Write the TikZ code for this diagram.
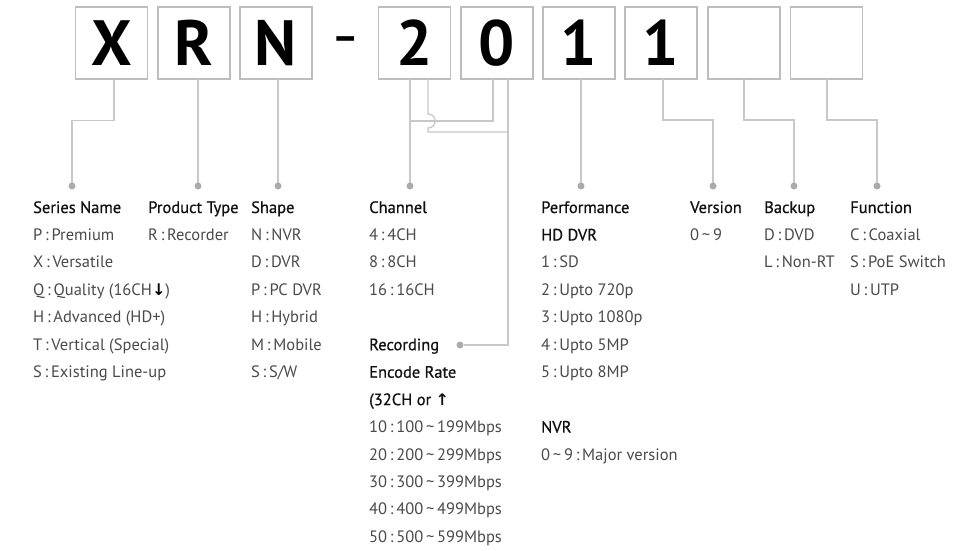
\documentclass[tikz,border=0pt]{standalone}
\usepackage{fontspec}
\setmainfont{PT Sans}
\newfontfamily\headfont[FakeBold=0.7]{PT Sans}
\newfontfamily\symfont{DejaVu Sans}
\definecolor{boxgray}{HTML}{BDBDBD}
\definecolor{linegray}{HTML}{C8C8C8}
\definecolor{dotgray}{HTML}{ABABAB}
\definecolor{bodytext}{HTML}{4A4A4A}
\definecolor{headtext}{HTML}{111111}
\newcommand\tld{\,\textasciitilde\,}
\newcommand\cln{\,:\,}
\begin{document}
\begin{tikzpicture}[x=1pt,y=-1pt,
  letterbox/.style={draw=boxgray, line width=1.1pt, minimum width=72pt, minimum height=72pt, inner sep=0pt,
    font=\fontsize{64}{64}\bfseries\selectfont, text=black},
  conn/.style={draw=linegray, line width=1.3pt},
  dotnode/.style={circle, fill=dotgray, minimum size=7pt, inner sep=0pt},
  head/.style={anchor=base west, inner sep=0pt, font=\headfont\fontsize{16.5}{18}\selectfont, text=headtext},
  body/.style={anchor=base west, inner sep=0pt, font=\fontsize{16.5}{18}\selectfont, text=bodytext}]
\useasboundingbox (0,0) rectangle (968,550);
% boxes
\node[letterbox] (bX) at (111.5,43) {X};
\node[letterbox] (bR) at (194,43) {R};
\node[letterbox] (bN) at (276,43) {N};
\node[anchor=base, inner sep=0pt, font=\fontsize{40}{40}\bfseries\selectfont] (dash) at (346,50.5) {–};
\node[letterbox] (b2) at (414.5,43) {2};
\node[letterbox] (b0) at (497,43) {0};
\node[letterbox] (b1) at (579,43) {1};
\node[letterbox] (b1b) at (661,43) {1};
\node[letterbox] (be1) at (744,43) {};
\node[letterbox] (be2) at (826.5,43) {};
% junction coordinates
\coordinate (j1) at (410,121);
\coordinate (hopA) at (428,114);
\coordinate (hopB) at (428,128);
\coordinate (j2) at (508,132);
% connectors
\draw[conn] ([xshift=2.5pt]bX.south) -- ++(0,41) -| (72,182.5);
\draw[conn] (198,79) -- (198,182.5);
\draw[conn] (278,79) -- (278,182.5);
\draw[conn] (410,79) -- (410,182.5);
\draw[conn] (493,79) |- (j1);
\draw[conn] (428,79) -- (hopA) .. controls (437.5,114) and (437.5,128) .. (hopB) |- (j2);
\draw[conn] (508,79) |- (463.5,345);
\draw[conn] (581,79) -- (581,182.5);
\draw[conn] (663,79) -- (663,120) -| (713,182.5);
\draw[conn] (744,79) -- (744,120) -| (794,182.5);
\draw[conn] (827,79) -- (827,120) -| (877,182.5);
% dots
\node[dotnode] (dSer) at (72,186) {};
\node[dotnode] (dPro) at (198,186) {};
\node[dotnode] (dSha) at (278,186) {};
\node[dotnode] (dCha) at (410,186) {};
\node[dotnode] (dRec) at (460,345) {};
\node[dotnode] (dPer) at (581,186) {};
\node[dotnode] (dVer) at (713,186) {};
\node[dotnode] (dBac) at (794,186) {};
\node[dotnode] (dFun) at (877,186) {};
% Series Name
\node[head] (hSer) at (33,213) {Series Name};
\foreach \t [count=\i] in {P\cln Premium, X\cln Versatile, {Q\cln Quality (16CH{\color{black}\symfont\bfseries\fontsize{16}{16}\selectfont↓})}, H\cln Advanced (HD+), T\cln Vertical (Special), S\cln Existing Line-up}
  \node[body] (ser\i) at (33,{213+27.45*\i}) {\t};
% Product Type
\node[head] (hPro) at (148,213) {Product Type};
\node[body] (pro1) at (148,240.45) {R\cln Recorder};
% Shape
\node[head] (hSha) at (251,213) {Shape};
\foreach \t [count=\i] in {N\cln NVR, D\cln DVR, P\cln PC DVR, H\cln Hybrid, M\cln Mobile, S\cln S/W}
  \node[body] (sha\i) at (251,{213+27.45*\i}) {\t};
% Channel
\node[head] (hCha) at (369,213) {Channel};
\foreach \t [count=\i] in {4\cln 4CH, 8\cln 8CH, 16\cln 16CH}
  \node[body] (cha\i) at (369,{213+27.45*\i}) {\t};
\node[head] (hRec) at (369,{213+27.45*5}) {Recording};
\node[head] (hEnc) at (369,{213+27.45*6}) {Encode Rate};
\node[head] (hEnc2) at (369,{213+27.45*7}) {(32CH or {\symfont\bfseries\fontsize{16}{16}\selectfont↑}};
\foreach \t [count=\i from 8] in {10\cln 100\tld 199Mbps, 20\cln 200\tld 299Mbps, 30\cln 300\tld 399Mbps, 40\cln 400\tld 499Mbps, 50\cln 500\tld 599Mbps}
  \node[body] (rec\i) at (369,{213+27.45*\i}) {\t};
% Performance
\node[head] (hPer) at (541,213) {Performance};
\node[head] (hHD) at (541,{213+27.45}) {HD DVR};
\foreach \t [count=\i from 2] in {1\cln SD, 2\cln Upto 720p, 3\cln Upto 1080p, 4\cln Upto 5MP, 5\cln Upto 8MP}
  \node[body] (per\i) at (541,{213+27.45*\i}) {\t};
\node[head] (hNVR) at (541,{213+27.45*8}) {NVR};
\node[body] (nvr1) at (541,{213+27.45*9}) {0\tld 9\cln Major version};
% Version
\node[head] (hVer) at (690,213) {Version};
\node[body] (ver1) at (690,240.45) {0\tld 9};
% Backup
\node[head] (hBac) at (764,213) {Backup};
\node[body] (bac1) at (764,240.45) {D\cln DVD};
\node[body] (bac2) at (764,267.9) {L\cln Non-RT};
% Function
\node[head] (hFun) at (850,213) {Function};
\node[body] (fun1) at (850,240.45) {C\cln Coaxial};
\node[body] (fun2) at (850,267.9) {S\cln PoE Switch};
\node[body] (fun3) at (850,295.35) {U\cln UTP};
\end{tikzpicture}
\end{document}
